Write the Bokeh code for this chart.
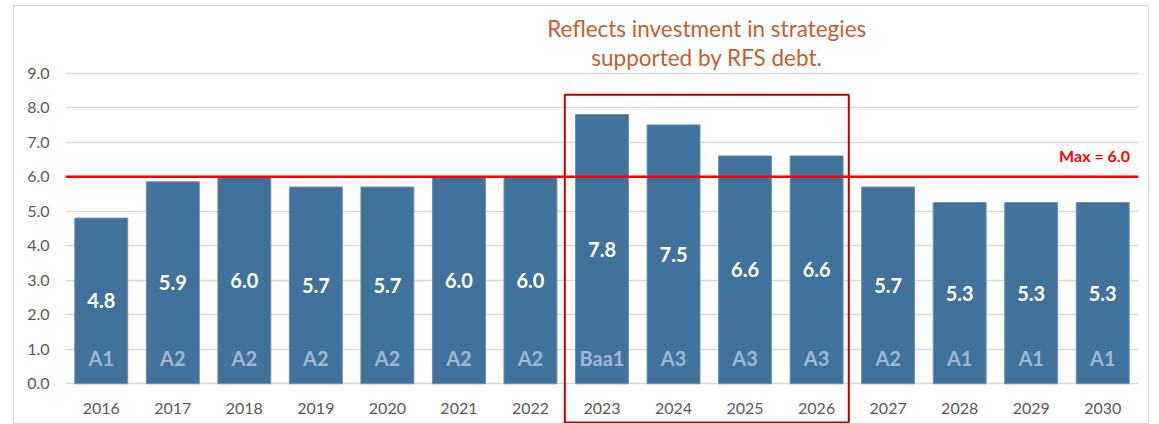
from bokeh.plotting import figure
from bokeh.models import ColumnDataSource, Range1d, FixedTicker, Span
from bokeh.core.properties import value
from bokeh.embed import file_html
from bokeh.resources import INLINE

# ---------------- data ----------------
years = ["2016", "2017", "2018", "2019", "2020", "2021", "2022", "2023",
         "2024", "2025", "2026", "2027", "2028", "2029", "2030"]
values = [4.8, 5.85, 6.0, 5.7, 5.7, 6.0, 6.0, 7.8, 7.5, 6.6, 6.6, 5.7, 5.25, 5.25, 5.25]
value_labels = ["4.8", "5.9", "6.0", "5.7", "5.7", "6.0", "6.0", "7.8", "7.5",
                "6.6", "6.6", "5.7", "5.3", "5.3", "5.3"]
ratings = ["A1", "A2", "A2", "A2", "A2", "A2", "A2", "Baa1", "A3", "A3", "A3",
           "A2", "A1", "A1", "A1"]
y_ticks = [0, 1, 2, 3, 4, 5, 6, 7, 8, 9]
max_limit = 6.0
max_label = "Max = 6.0"
highlight_years = ["2023", "2024", "2025", "2026"]
annotation_lines = ["Reflects investment in strategies", "supported by RFS debt."]

# ---------------- styling ----------------
FONT = "Lato"
BAR = "#41729B"
GRID = "#D9D9D9"
TICK = "#595959"

idx = list(range(len(years)))
src = ColumnDataSource(dict(
    x=idx, top=values, mid=[v / 2 for v in values],
    vlab=value_labels, rating=ratings, year=years,
))

p = figure(
    width=1136, height=419,
    x_range=Range1d(-0.5, len(years) - 0.5),
    y_range=Range1d(-1.21, 10.93),
    output_backend="svg", toolbar_location=None,
    min_border_left=51, min_border_right=12, min_border_top=0, min_border_bottom=0,
    margin=(5, 0, 0, 13),
)
p.styles = {"border": f"1px solid {GRID}", "box-sizing": "border-box"}
p.outline_line_color = None
p.background_fill_color = "white"
p.border_fill_color = "white"

# axes
p.xaxis.visible = False
p.xgrid.visible = False
p.yaxis.ticker = FixedTicker(ticks=y_ticks)
p.yaxis.major_label_overrides = {t: f"{t:.1f}" for t in y_ticks}
p.yaxis.axis_line_color = None
p.yaxis.major_tick_line_color = None
p.yaxis.minor_tick_line_color = None
p.yaxis.major_tick_out = 0
p.yaxis.major_tick_in = 0
p.yaxis.major_label_standoff = 16
p.yaxis.major_label_text_font = FONT
p.yaxis.major_label_text_font_size = "16px"
p.yaxis.major_label_text_color = TICK
p.ygrid.ticker = FixedTicker(ticks=y_ticks)
p.ygrid.grid_line_color = GRID
p.ygrid.grid_line_width = 1.3

# bars
p.vbar(x="x", top="top", bottom=0, width=0.74, source=src,
       fill_color=BAR, line_color="#6A90B3", line_width=1)

# value labels (white, bold, centred in bar)
p.text(x="x", y="mid", text="vlab", source=src, text_align="center",
       text_baseline="middle", text_color="white", text_font=value(FONT),
       text_font_style="bold", text_font_size="20px")

# rating labels near base
p.text(x="x", y=0.76, text="rating", source=src, text_align="center",
       text_baseline="middle", text_color="#9CB8D5", text_font=value(FONT),
       text_font_style="bold", text_font_size="20px")

# year labels
p.text(x="x", y=-0.72, text="year", source=src, text_align="center",
       text_baseline="middle", text_color=TICK, text_font=value(FONT),
       text_font_size="16px")

# max line + label
p.add_layout(Span(location=max_limit, dimension="width", line_color="#FF0000",
                  line_width=2.5))
p.text(x=[len(years) - 0.62], y=[max_limit + 0.62], text=[max_label],
       text_align="right", text_baseline="middle", text_color="#FF0000",
       text_font=value(FONT), text_font_style="bold", text_font_size="16px")

# highlight box
h0 = years.index(highlight_years[0])
h1 = years.index(highlight_years[-1])
box_top = max(values[h0:h1 + 1]) + 0.57
p.quad(left=[h0 - 0.52], right=[h1 + 0.45], top=[box_top], bottom=[-1.12],
       fill_color=None, line_color="#C00000", line_width=2)

# annotation
cx = (h0 - 0.52 + h1 + 0.45) / 2
p.text(x=[cx, cx], y=[10.29, 9.46], text=annotation_lines, text_align="center",
       text_baseline="middle", text_color="#C5602F", text_font=value(FONT),
       text_font_size="22.5px")

open("out.html", "w").write(file_html(p, INLINE))
